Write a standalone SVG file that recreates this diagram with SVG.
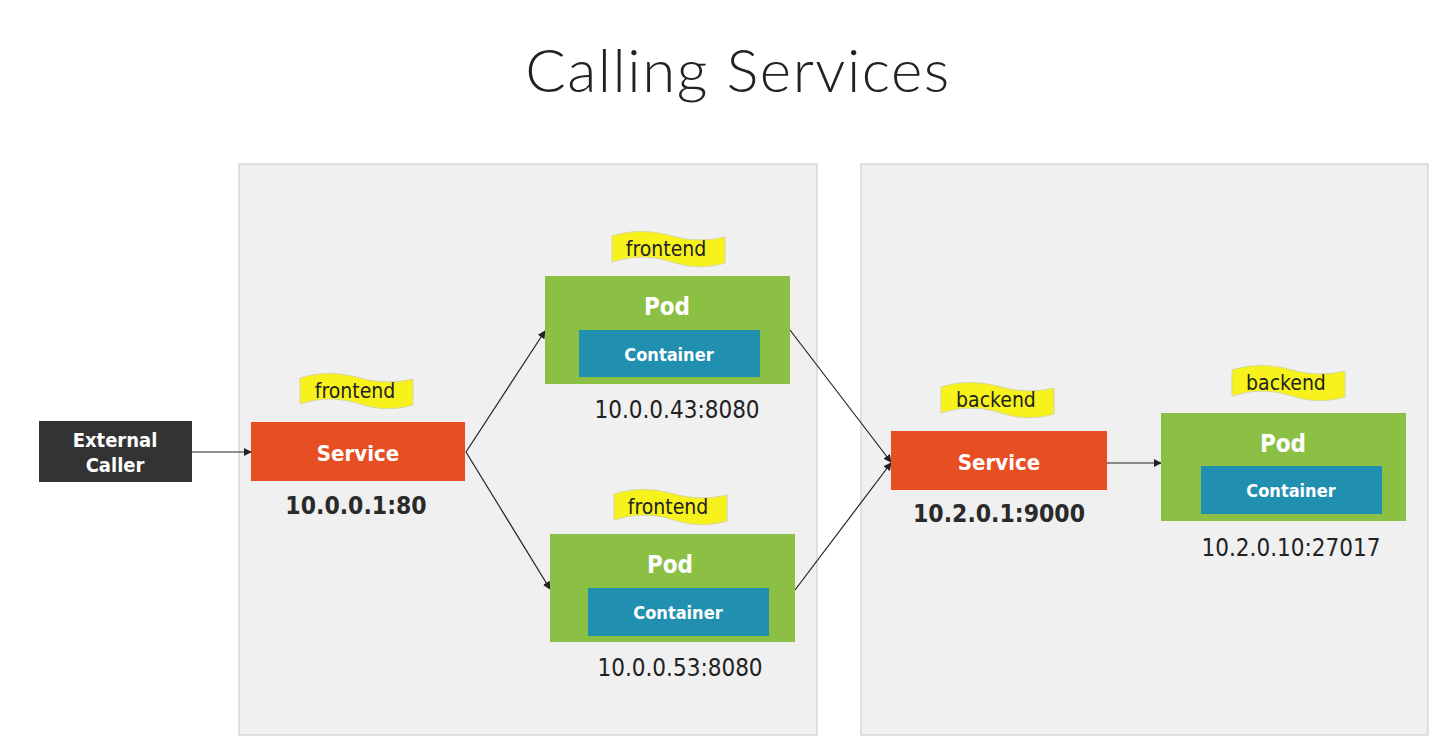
<svg xmlns="http://www.w3.org/2000/svg" width="1444" height="741" viewBox="0 0 1444 741">
<style>
.panel{fill:#f0f0f0;stroke:#c8c8c8;stroke-width:1}
.svc{fill:#e84e23}
.pod{fill:#8cc045}
.ctr{fill:#2190b0}
.ext{fill:#333333}
.flag{fill:#f7f21c;stroke:#d8d89a;stroke-width:1}
.w{font-family:"DejaVu Sans Condensed","DejaVu Sans",sans-serif;font-weight:bold;fill:#ffffff;text-anchor:middle}
.ft{font-family:"DejaVu Sans Condensed","DejaVu Sans",sans-serif;font-size:21px;fill:#222;text-anchor:middle}
.ip{font-family:"DejaVu Sans Condensed","DejaVu Sans",sans-serif;font-size:24px;fill:#222;text-anchor:middle}
.ipb{font-family:"DejaVu Sans Condensed","DejaVu Sans",sans-serif;font-size:24.5px;font-weight:bold;fill:#2a2a2a;text-anchor:middle}
.conn{stroke:#222;stroke-width:1.2;fill:none;marker-end:url(#ah)}
</style>
<defs>
<marker id="ah" viewBox="0 0 10 10" refX="9" refY="5" markerWidth="8" markerHeight="8" markerUnits="userSpaceOnUse" orient="auto">
<path d="M0,0 L10,5 L0,10 Z" fill="#222"/>
</marker>
<path id="flagshape" d="M0,5 C22,-2 42,0 60,5 C78,10 96,10 113,6 L113,32 C96,37 78,37 60,31 C42,25 22,24 0,31 Z"/>
</defs>
<rect width="1444" height="741" fill="#ffffff"/>
<text x="738" y="92" font-family="Lato,'Open Sans',sans-serif" font-weight="300" font-size="60" letter-spacing="1.5" fill="#222" text-anchor="middle">Calling Services</text>
<rect class="panel" x="239" y="164" width="578" height="571"/>
<rect class="panel" x="861" y="164" width="567" height="571"/>

<g id="connectors">
<line class="conn" x1="192" y1="452" x2="251" y2="452"/>
<line class="conn" x1="466" y1="452" x2="545" y2="331"/>
<line class="conn" x1="466" y1="452" x2="550" y2="589"/>
<line class="conn" x1="790" y1="330" x2="891" y2="462"/>
<line class="conn" x1="795" y1="590" x2="891" y2="463"/>
<line class="conn" x1="1107" y1="463" x2="1161" y2="463"/>
</g>

<g id="external-caller">
<rect class="ext" x="39" y="421" width="153" height="61"/>
<text class="w" x="115" y="447" font-size="20">External</text>
<text class="w" x="115" y="472" font-size="20">Caller</text>
</g>

<g id="service-frontend">
<use href="#flagshape" class="flag" transform="translate(300,373)"/>
<text class="ft" x="355" y="398">frontend</text>
<rect class="svc" x="251" y="422" width="214" height="59"/>
<text class="w" x="358" y="461" font-size="22">Service</text>
<text class="ipb" x="356" y="514">10.0.0.1:80</text>
</g>

<g id="pod-frontend-1">
<use href="#flagshape" class="flag" transform="translate(612,231)"/>
<text class="ft" x="666" y="256">frontend</text>
<rect class="pod" x="545" y="276" width="245" height="108"/>
<text class="w" x="667" y="315" font-size="24">Pod</text>
<rect class="ctr" x="579" y="330" width="181" height="47"/>
<text class="w" x="669" y="361" font-size="18">Container</text>
<text class="ip" x="677" y="418">10.0.0.43:8080</text>
</g>

<g id="pod-frontend-2">
<use href="#flagshape" class="flag" transform="translate(614,489)"/>
<text class="ft" x="668" y="514">frontend</text>
<rect class="pod" x="550" y="534" width="245" height="108"/>
<text class="w" x="670" y="573" font-size="24">Pod</text>
<rect class="ctr" x="588" y="588" width="181" height="48"/>
<text class="w" x="678" y="619" font-size="18">Container</text>
<text class="ip" x="680" y="676">10.0.0.53:8080</text>
</g>

<g id="service-backend">
<use href="#flagshape" class="flag" transform="translate(941,382)"/>
<text class="ft" x="996" y="407">backend</text>
<rect class="svc" x="891" y="431" width="216" height="59"/>
<text class="w" x="999" y="470" font-size="22">Service</text>
<text class="ipb" x="999" y="522">10.2.0.1:9000</text>
</g>

<g id="pod-backend">
<use href="#flagshape" class="flag" transform="translate(1232,365)"/>
<text class="ft" x="1286" y="390">backend</text>
<rect class="pod" x="1161" y="413" width="245" height="108"/>
<text class="w" x="1283" y="452" font-size="24">Pod</text>
<rect class="ctr" x="1201" y="466" width="181" height="48"/>
<text class="w" x="1291" y="497" font-size="18">Container</text>
<text class="ip" x="1291" y="556">10.2.0.10:27017</text>
</g>
</svg>
